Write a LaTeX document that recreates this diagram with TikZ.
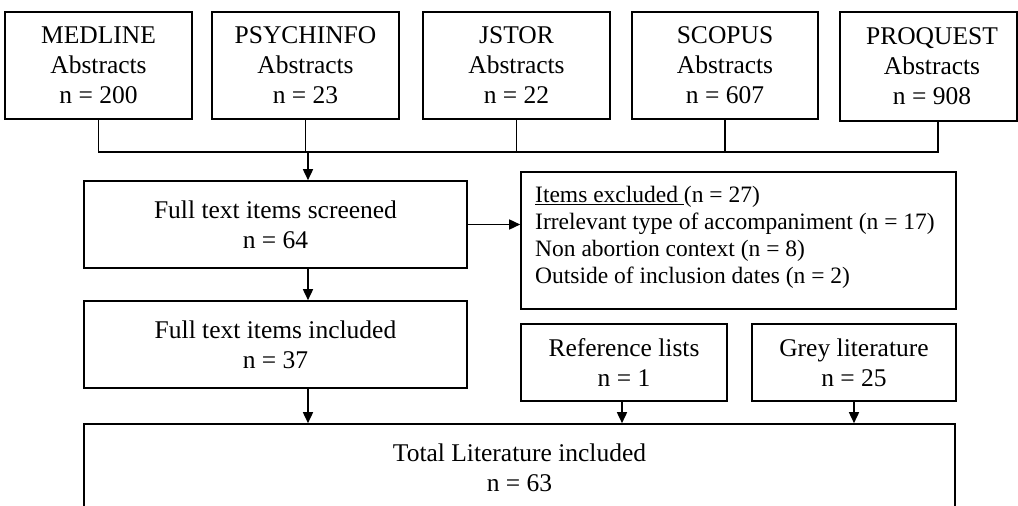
\documentclass[tikz,border=0pt]{standalone}
\usepackage{fontspec}
\setmainfont{Liberation Serif}
\usetikzlibrary{arrows.meta}
\begin{document}
\begin{tikzpicture}[x=1pt,y=-1pt,
  box/.style={draw, line width=1.6pt, inner sep=0pt, align=center,
    font=\fontsize{25.5}{30}\selectfont},
  conn/.style={line width=1.6pt},
  arr/.style={line width=1.6pt, -{Triangle[length=11pt,width=10pt]}}]
\useasboundingbox (0,0) rectangle (1018,506);
\clip (0,0) rectangle (1018,506);
% top row
\node[box, minimum width=187pt, minimum height=107pt] (med) at (98.5,65.5) {MEDLINE\\Abstracts\\n = 200};
\node[box, minimum width=187pt, minimum height=107pt] (psy) at (305.5,65.5) {PSYCHINFO\\Abstracts\\n = 23};
\node[box, minimum width=187pt, minimum height=107pt] (jst) at (516.5,65.5) {JSTOR\\Abstracts\\n = 22};
\node[box, minimum width=186pt, minimum height=107pt] (sco) at (725,65.5) {SCOPUS\\Abstracts\\n = 607};
\node[box, minimum width=177pt, minimum height=109pt] (pro) at (928.5,66.5) {\hspace*{7pt}PROQUEST\\\hspace*{7pt}Abstracts\\\hspace*{7pt}n = 908};
% middle
\node[box, minimum width=383pt, minimum height=87pt] (scr) at (275.5,224.5) {Full text items screened\\n = 64};
\node[box, minimum width=435pt, minimum height=137pt] (exc) at (738.5,240.5) {};
\node[anchor=west, align=left, inner sep=0pt, font=\fontsize{23.5}{27}\selectfont] (exct) at (535,237)
  {\underline{Items excluded\ }(n = 27)\\Irrelevant type of accompaniment (n = 17)\\Non abortion context (n = 8)\\Outside of inclusion dates (n = 2)};
\node[box, minimum width=383pt, minimum height=87pt] (inc) at (275.5,344.5) {Full text items included\\n = 37};
\node[box, minimum width=206pt, minimum height=77pt] (ref) at (624,362.5) {Reference lists\\n = 1};
\node[box, minimum width=204pt, minimum height=77pt] (grey) at (854,362.5) {Grey literature\\n = 25};
\node[box, minimum width=871pt, minimum height=88pt] (tot) at (519.5,468) {Total Literature included\\n = 63};
% connectors
\coordinate (busy) at (0,152);
\coordinate (proc) at ([xshift=9.5pt]pro.south);
\coordinate (mainx) at (308,0);
\draw[conn] (med.south) -- (med.south |- busy) -- (proc |- busy) -- (proc);
\draw[conn] (psy.south) -- (psy.south |- busy);
\draw[conn] (jst.south) -- (jst.south |- busy);
\draw[conn] (sco.south) -- (sco.south |- busy);
\draw[arr] (mainx |- busy) -- (mainx |- scr.north);
\draw[arr] (scr.east) -- (exc.west |- scr.east);
\draw[arr] (mainx |- scr.south) -- (mainx |- inc.north);
\draw[arr] (mainx |- inc.south) -- (mainx |- tot.north);
\draw[arr] ([xshift=-2pt]ref.south) -- ([xshift=-2pt]ref.south |- tot.north);
\draw[arr] (grey.south) -- (grey.south |- tot.north);
\end{tikzpicture}
\end{document}
